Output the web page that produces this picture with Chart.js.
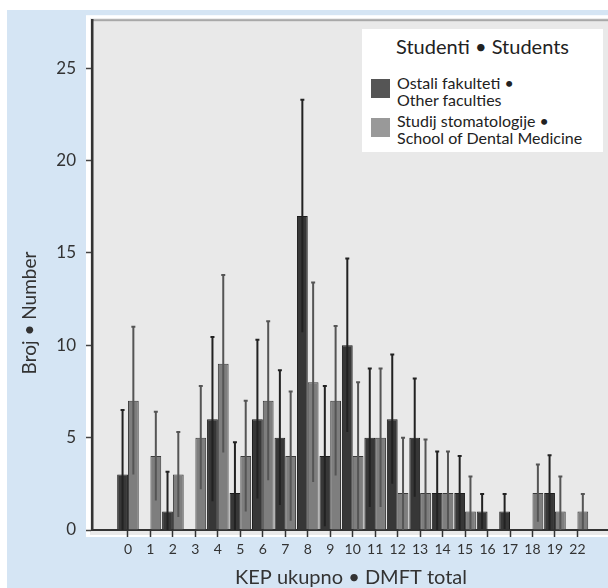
<!DOCTYPE html>
<html lang="hr">
<head>
  <meta charset="UTF-8">
  <title>KEP ukupno • DMFT total</title>
  <script src="https://cdn.jsdelivr.net/npm/chart.js"></script>
  <style>
    body { margin: 0; background: #fff; font-family: Lato, sans-serif; }
    .wrap { position: relative; width: 608px; height: 588px; }
    .panel { position: absolute; left: 7px; top: 10px; width: 601px; height: 578px; background: #d5e5f4; }
    #chart { position: absolute; left: 0; top: 0; }
    .legend {
      position: absolute; left: 362px; top: 29px; width: 241px; height: 123px;
      background: #fff; color: #222;
    }
    .legend .title { position: absolute; left: 0; width: 100%; top: 5px; text-align: center; font-size: 20px; line-height: 24px; }
    .legend .sw { position: absolute; left: 9px; width: 19px; height: 19px; }
    .legend .txt { position: absolute; left: 35px; font-size: 16px; line-height: 17px; white-space: nowrap; }
  </style>
</head>
<body>
<div class="wrap">
  <div class="panel"></div>
  <canvas id="chart" width="608" height="588"></canvas>
  <div class="legend">
    <div class="title">Studenti • Students</div>
    <div class="sw" style="top:50px;background:#555;"></div>
    <div class="txt" style="top:45px;">Ostali fakulteti •<br>Other faculties</div>
    <div class="sw" style="top:89px;background:#999;"></div>
    <div class="txt" style="top:83px;">Studij stomatologije •<br>School of Dental Medicine</div>
  </div>
</div>

<script>
  // DMFT categories (last one jumps to 22)
  const labels = ['0', '1', '2', '3', '4', '5', '6', '7', '8', '9', '10', '11', '12', '13', '14', '15', '16', '17', '18', '19', '22'];
  // Ostali fakulteti • Other faculties
  const otherFaculties = [3, 0, 1, 0, 6, 2, 6, 5, 17, 4, 10, 5, 6, 5, 2, 2, 1, 1, 0, 2, 0];
  const otherSD = [3.5, 0, 2.15, 0, 4.45, 2.75, 4.3, 3.65, 6.3, 3.8, 4.7, 3.75, 3.5, 3.2, 2.25, 2.0, 0.95, 0.95, 0, 2.05, 0];
  // Studij stomatologije • School of Dental Medicine
  const dentalSchool = [7, 4, 3, 5, 9, 4, 7, 4, 8, 7, 4, 5, 2, 2, 2, 1, 0, 0, 2, 1, 1];
  const dentalSD = [4.0, 2.4, 2.3, 2.8, 4.8, 3.0, 4.3, 3.5, 5.4, 4.05, 4.0, 3.75, 3.0, 2.9, 2.25, 1.9, 0, 0, 1.55, 1.9, 0.95];
  const yTicks = [0, 5, 10, 15, 20, 25];

  const errors = [otherSD, dentalSD];
  const errorColors = ['#222', '#555'];

  const plotFrame = {
    id: 'plotFrame',
    beforeDraw(chart) {
      const { ctx, chartArea: a } = chart;
      ctx.save();
      ctx.fillStyle = '#fff';
      ctx.fillRect(a.left - 6, a.top - 5, a.right - a.left + 6, a.bottom - a.top + 12);
      ctx.fillStyle = '#e9e9e9';
      ctx.fillRect(a.left - 2, a.top - 2, a.right - a.left + 2, a.bottom - a.top + 7);
      ctx.fillStyle = '#a8a8a8';
      ctx.fillRect(a.left, a.top - 1, a.right - a.left, 2);
      ctx.restore();
    },
    afterDatasetsDraw(chart) {
      const { ctx } = chart;
      const y = chart.scales.y;
      ctx.save();
      chart.data.datasets.forEach((ds, d) => {
        const meta = chart.getDatasetMeta(d);
        meta.data.forEach((bar, i) => {
          const v = ds.data[i].y, e = errors[d][i];
          if (!e) return;
          const top = y.getPixelForValue(v + e);
          const bot = y.getPixelForValue(Math.max(0, v - e));
          ctx.strokeStyle = errorColors[d];
          ctx.lineWidth = 2;
          ctx.beginPath();
          ctx.moveTo(bar.x, bot);
          ctx.lineTo(bar.x, top);
          ctx.moveTo(bar.x - 2, top);
          ctx.lineTo(bar.x + 2, top);
          ctx.stroke();
        });
      });
      ctx.restore();
    },
    afterDraw(chart) {
      const { ctx } = chart;
      ctx.save();
      ctx.fillStyle = '#333';
      ctx.font = '20px Lato';
      ctx.textAlign = 'center';
      ctx.textBaseline = 'alphabetic';
      ctx.fillText('KEP ukupno • DMFT total', 351, 584);
      ctx.translate(30, 313);
      ctx.rotate(-Math.PI / 2);
      ctx.font = '19px Lato';
      ctx.textBaseline = 'middle';
      ctx.fillText('Broj • Number', 0, 0);
      ctx.restore();
    }
  };

  new Chart(document.getElementById('chart'), {
    type: 'bar',
    data: {
      datasets: [{
        label: 'Ostali fakulteti • Other faculties',
        data: otherFaculties.map((v, i) => ({ x: i, y: v })),
        backgroundColor: '#373737',
        borderColor: '#1c1c1c',
        borderWidth: 1
      }, {
        label: 'Studij stomatologije • School of Dental Medicine',
        data: dentalSchool.map((v, i) => ({ x: i, y: v })),
        backgroundColor: '#7e7e7e',
        borderColor: '#3a3a3a',
        borderWidth: 1
      }]
    },
    options: {
      responsive: false,
      animation: false,
      barPercentage: 1,
      categoryPercentage: 0.96,
      layout: { padding: { top: 20, right: 0, left: 0, bottom: 0 } },
      plugins: { legend: { display: false }, tooltip: { enabled: false } },
      scales: {
        x: {
          type: 'linear',
          offset: false,
          min: -1.6,
          max: 21.36,
          afterFit(s) { s.height = 58; },
          afterBuildTicks(s) { s.ticks = labels.map((_, i) => ({ value: i })); },
          ticks: {
            autoSkip: false,
            maxRotation: 0,
            padding: 4,
            color: '#333',
            font: { family: 'Lato', size: 14 },
            callback: v => labels[v]
          },
          grid: { offset: false, drawOnChartArea: false, tickLength: 7, tickColor: '#333', tickWidth: 1.5 },
          border: { color: '#333', width: 2 }
        },
        y: {
          min: 0,
          max: 27.6,
          afterFit(s) { s.width = 92; },
          afterBuildTicks(s) { s.ticks = yTicks.map(v => ({ value: v })); },
          ticks: {
            padding: 10,
            color: '#333',
            font: { family: 'Lato', size: 17 }
          },
          grid: { drawOnChartArea: false, tickLength: 6, tickColor: '#444', tickWidth: 1.5 },
          border: { color: '#333', width: 2.5 }
        }
      }
    },
    plugins: [plotFrame]
  });
</script>
</body>
</html>
